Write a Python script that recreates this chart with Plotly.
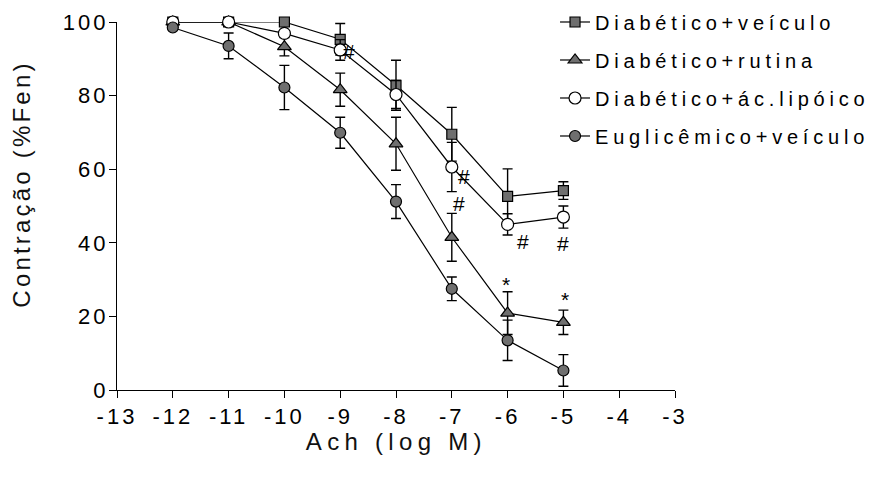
import plotly.graph_objects as go

# ---- data ----
log_ach = [-12, -11, -10, -9, -8, -7, -6, -5]

diab_veiculo = [100, 100, 100, 95.3, 82.8, 69.5, 52.6, 54.2]
diab_veiculo_se = [0, 0, 0, 4.3, 6.8, 7.3, 7.5, 2.4]

diab_rutina = [100, 100, 93.3, 81.6, 66.9, 41.5, 20.9, 18.4]
diab_rutina_se = [0, 0, 2.5, 4.5, 7.2, 6.5, 5.8, 3.3]

diab_lipoico = [100, 100, 96.9, 92.4, 80.3, 60.6, 45.0, 47.0]
diab_lipoico_se = [0, 0, 0, 2.8, 3.8, 6.7, 2.9, 3.0]

eugli_veiculo = [98.5, 93.5, 82.2, 69.9, 51.2, 27.5, 13.5, 5.3]
eugli_veiculo_se = [0, 3.5, 6.0, 4.2, 4.6, 3.2, 5.5, 4.3]

series_names = ["Diabético+veículo", "Diabético+rutina",
                "Diabético+ác.lipóico", "Euglicêmico+veículo"]

# significance marks: (x, y, text)
sig_x = [-8.85, -6.79, -6.88, -5.72, -5.01, -6.02, -4.98]
sig_y = [92.0, 58.0, 50.7, 40.3, 39.9, 28.7, 24.6]
sig_text = ["#", "#", "#", "#", "#", "*", "*"]

x_ticks = [-13, -12, -11, -10, -9, -8, -7, -6, -5, -4, -3]
y_ticks = [0, 20, 40, 60, 80, 100]

FONT = "Liberation Sans, Arial, Helvetica, sans-serif"
GRAY = "#6f6f6f"

fig = go.Figure()

styles = [
    (diab_veiculo, diab_veiculo_se, "square", 10, GRAY),
    (diab_rutina, diab_rutina_se, "triangle-up", 12, GRAY),
    (diab_lipoico, diab_lipoico_se, "circle", 12, "white"),
    (eugli_veiculo, eugli_veiculo_se, "circle", 11, GRAY),
]

for i, (vals, se, sym, size, fill) in enumerate(styles):
    fig.add_trace(go.Scatter(
        x=log_ach, y=vals, name=series_names[i],
        mode="lines+markers",
        line=dict(color="black", width=1.2),
        marker=dict(symbol=sym, size=size, color=fill,
                    line=dict(color="black", width=1.2)),
        error_y=dict(type="data", array=se, visible=True,
                     color="black", thickness=1.4, width=5),
        cliponaxis=False,
        legendgroup=f"g{i}",
    ))

for xs, ys, t in zip(sig_x, sig_y, sig_text):
    fig.add_annotation(x=xs, y=ys, text=t, showarrow=False,
                       xanchor="center", yanchor="middle",
                       font=dict(family=FONT, size=21, color="black"))

# axis titles as annotations for precise placement
fig.add_annotation(xref="paper", yref="paper", x=0.5, y=-0.140,
                   xanchor="center", yanchor="middle",
                   text="Ach (log M)", showarrow=False,
                   font=dict(family=FONT, size=24, color="#111"))
fig.add_annotation(xref="paper", yref="paper", x=-0.170, y=0.56,
                   xanchor="center", yanchor="middle",
                   text="Contração (%Fen)", textangle=-90, showarrow=False,
                   font=dict(family=FONT, size=24, color="#111"))

fig.update_layout(
    width=877, height=490,
    margin=dict(l=117, r=202, t=22, b=100, autoexpand=False),
    paper_bgcolor="white", plot_bgcolor="white",
    font=dict(family=FONT, color="black"),
    showlegend=True,
    legend=dict(x=0.785, y=1.053, xanchor="left", yanchor="top",
                font=dict(family=FONT, size=20, color="black"),
                bgcolor="rgba(0,0,0,0)", tracegroupgap=9,
                traceorder="grouped"),
    xaxis=dict(range=[-13, -3], tickvals=x_ticks, ticktext=[str(v) for v in x_ticks],
               showline=True, linecolor="black", linewidth=1.2,
               ticks="outside", ticklen=7, tickwidth=1.2, tickcolor="black",
               showgrid=False, zeroline=False, ticklabelstandoff=-1,
               automargin=False,
               tickfont=dict(family=FONT, size=22, color="black")),
    yaxis=dict(range=[0, 100], tickvals=y_ticks, ticktext=[str(v) for v in y_ticks],
               showline=True, linecolor="black", linewidth=1.2,
               ticks="outside", ticklen=7, tickwidth=1.2, tickcolor="black",
               showgrid=False, zeroline=False, ticklabelstandoff=-4,
               automargin=False,
               tickfont=dict(family=FONT, size=22, color="black")),
)

post = """
(function(){
  function sp(){
    var gd = document.getElementById('{plot_id}');
    if(!gd) return;
    gd.querySelectorAll('.xtick text, .ytick text').forEach(function(t){ t.style.letterSpacing='3px'; });
    gd.querySelectorAll('text.legendtext').forEach(function(t){ t.style.letterSpacing='4.8px'; });
    gd.querySelectorAll('.legend [clip-path]').forEach(function(e){ e.removeAttribute('clip-path'); });
    gd.querySelectorAll('.annotation-text').forEach(function(t){
      var s = t.textContent || '';
      if(s.indexOf('Ach') === 0){ t.style.letterSpacing='5.3px'; }
      else if(s.indexOf('Contra') === 0){ t.style.letterSpacing='3.2px'; }
    });
  }
  sp();
  setTimeout(sp, 50);
  setTimeout(sp, 300);
})();
"""

fig.write_html("out.html", post_script=post)
